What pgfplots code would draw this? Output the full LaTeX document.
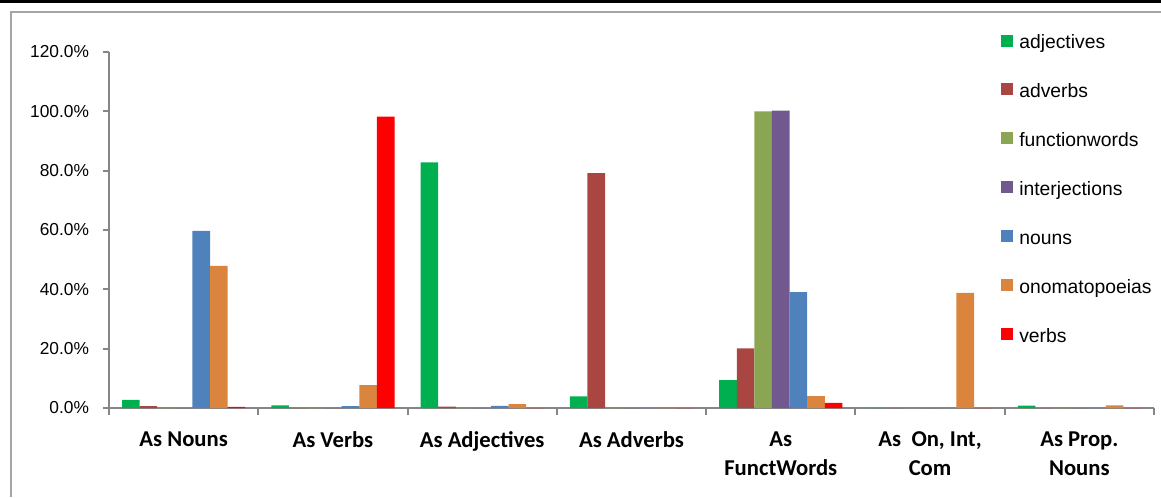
\documentclass[border=0pt]{standalone}
\usepackage{pgfplots}
\pgfplotsset{compat=1.18}
\usepackage{fontspec}
\setmainfont{Liberation Sans}
\newfontfamily\calfont{Carlito}
\definecolor{cadj}{RGB}{0,176,80}
\definecolor{cadv}{RGB}{170,70,66}
\definecolor{cfun}{RGB}{138,166,82}
\definecolor{cint}{RGB}{113,88,143}
\definecolor{cnou}{RGB}{79,129,189}
\definecolor{cono}{RGB}{219,132,61}
\definecolor{cver}{RGB}{255,0,0}
\definecolor{axgray}{RGB}{134,134,134}
\definecolor{framegray}{RGB}{165,165,165}
\begin{document}
\begin{tikzpicture}
\useasboundingbox (0pt,0pt) rectangle (870.75pt,372.75pt);
\fill[black] (0pt,370.5pt) rectangle (870.75pt,372.75pt);
\draw[framegray, line width=1.5pt] (8.25pt,0pt) -- (8.25pt,363.75pt) -- (870.75pt,363.75pt);
\begin{axis}[
  at={(81.75pt,66.75pt)}, anchor=south west,
  scale only axis, width=783.75pt, height=267pt,
  xmin=0, xmax=7, ymin=0, ymax=120,
  ybar=0pt, bar width=13.2pt,
  axis x line=bottom, axis y line=left,
  axis line style={draw=axgray, line width=1.5pt, -},
  tick align=outside,
  xtick={0.5,1.5,2.5,3.5,4.5,5.5,6.5},
  xticklabels={As Nouns, As Verbs, As Adjectives, As Adverbs, As\\FunctWords, As\ \ On{,} Int{,}\\Com, As Prop.\\Nouns},
  major x tick style={draw=none},
  minor xtick={0,1,2,3,4,5,6,7},
  minor x tick style={draw=axgray, line width=1.5pt},
  minor tick length=5pt,
  ytick={0,20,40,60,80,100,120},
  yticklabels={0.0\%,20.0\%,40.0\%,60.0\%,80.0\%,100.0\%,120.0\%},
  major y tick style={draw=axgray, line width=1.5pt},
  major tick length=4.5pt,
  xticklabel style={font=\calfont\bfseries\fontsize{17}{22}\selectfont, align=center, anchor=north, inner sep=0pt},
  xticklabel shift=13pt,
  yticklabel style={font=\fontsize{13}{15}\selectfont, inner sep=0pt, anchor=east},
  yticklabel shift=10.3pt,
  legend style={at={(rel axis cs:0.8536,1.0497)}, anchor=north west, draw=none, fill=none, inner sep=0pt,
    font=\fontsize{14.5}{17}\selectfont, row sep=22.9pt, column sep=4.5pt,
    nodes={inner sep=0pt, text height=10.5pt, text depth=3pt}},
  legend cell align=left,
  every axis plot/.append style={draw=none, legend image code/.code={\fill[##1] (0pt,-2pt) rectangle (9pt,7pt);}},
]
\addplot[fill=cadj] coordinates {(0.5,2.7) (1.5,0.9) (2.5,82.8) (3.5,3.9) (4.5,9.4) (5.5,0) (6.5,0.8)};
\addplot[fill=cadv] coordinates {(0.5,0.6) (1.5,0) (2.5,0.5) (3.5,79.2) (4.5,20.1) (5.5,0) (6.5,0)};
\addplot[fill=cfun] coordinates {(0.5,0) (1.5,0) (2.5,0) (3.5,0) (4.5,100) (5.5,0) (6.5,0)};
\addplot[fill=cint] coordinates {(0.5,0) (1.5,0) (2.5,0) (3.5,0) (4.5,100.2) (5.5,0) (6.5,0)};
\addplot[fill=cnou] coordinates {(0.5,59.7) (1.5,0.6) (2.5,0.7) (3.5,0) (4.5,39.1) (5.5,0) (6.5,0)};
\addplot[fill=cono] coordinates {(0.5,47.9) (1.5,7.7) (2.5,1.3) (3.5,0) (4.5,4.0) (5.5,38.8) (6.5,0.9)};
\addplot[fill=cver] coordinates {(0.5,0.4) (1.5,98.2) (2.5,0) (3.5,0) (4.5,1.7) (5.5,0) (6.5,0)};
\legend{adjectives, adverbs, functionwords, interjections, nouns, onomatopoeias, verbs}
\end{axis}
\end{tikzpicture}
\end{document}
